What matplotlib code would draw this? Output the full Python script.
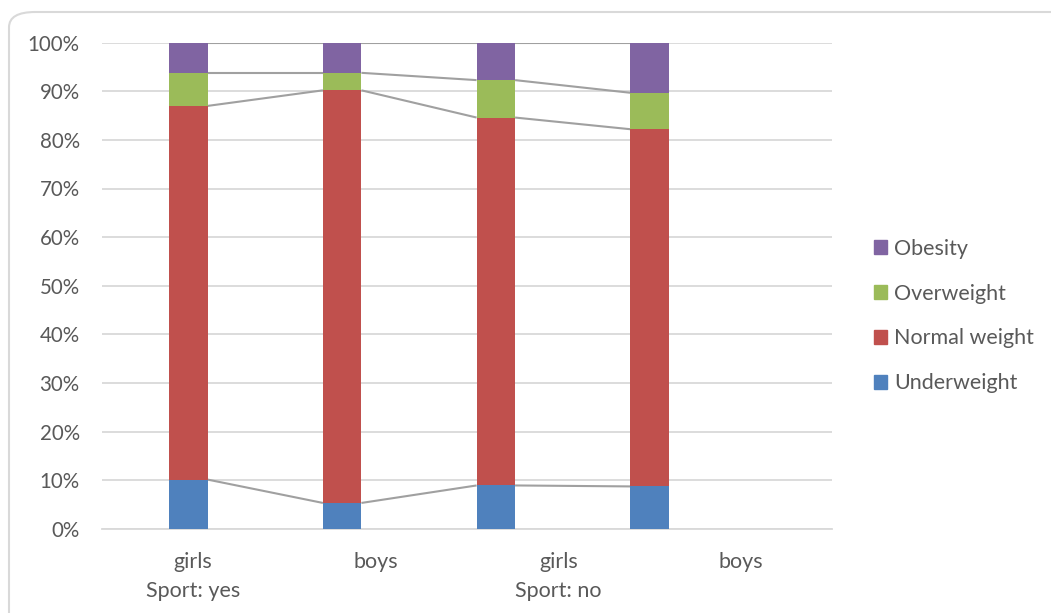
import matplotlib
matplotlib.use("Agg")
import matplotlib.pyplot as plt
import numpy as np
from matplotlib.patches import FancyBboxPatch, Patch
from matplotlib.ticker import FuncFormatter

# share of pupils in each weight class (%)
groups = ["girls\nSport: yes", "boys", "girls\nSport: no", "boys"]
underweight = [10.1, 5.3, 8.9, 8.7]
normal_weight = [76.9, 84.9, 75.7, 73.5]
overweight = [6.8, 3.6, 7.7, 7.5]
obesity = [6.2, 6.2, 7.7, 10.3]

series = [
    ("Underweight", underweight, "#4F81BD"),
    ("Normal weight", normal_weight, "#C0504D"),
    ("Overweight", overweight, "#9BBB59"),
    ("Obesity", obesity, "#8064A2"),
]

TEXT = "#595959"
GRID = "#D9D9D9"
plt.rcParams["font.family"] = ["Lato", "DejaVu Sans"]

W, H = 1051, 613
fig = plt.figure(figsize=(W / 100, H / 100), dpi=100)

# rounded frame around the chart area (runs off the right and bottom edges)
frame = FancyBboxPatch((9 / W, -0.1), 1.05, 1.1 - 12 / H, boxstyle="round,pad=0,rounding_size=0.025",
                       transform=fig.transFigure, facecolor="none", edgecolor=GRID,
                       linewidth=1.5, zorder=-1)
fig.patches.append(frame)

ax = fig.add_axes([102 / W, 1 - 528.7 / H, 730 / W, 486 / H])
ax.set_facecolor("none")

x = np.arange(len(groups))
bar_x = x * 0.842 - 0.026
width = 0.211

bottom = np.zeros(len(groups))
tops = []
for name, vals, color in series:
    vals = np.array(vals)
    ax.bar(bar_x, vals, width, bottom=bottom, color=color, label=name, zorder=3)
    bottom = bottom + vals
    tops.append(bottom.copy())

# series lines joining the segment tops of neighbouring bars
for top in tops:
    for i in range(len(groups) - 1):
        ax.plot([bar_x[i] + width / 2, bar_x[i + 1] - width / 2], [top[i], top[i + 1]],
                color="#A0A0A0", linewidth=1.5, zorder=2, solid_capstyle="butt")

ax.set_xlim(-0.5, 3.5)
ax.set_ylim(0, 100)
ax.set_yticks(np.arange(0, 101, 10))
ax.yaxis.set_major_formatter(FuncFormatter(lambda v, p: "%d%%" % v))
ax.set_xticks(x)
ax.set_xticklabels(groups, linespacing=1.55)
ax.tick_params(length=0, labelcolor=TEXT)
ax.tick_params(axis="y", pad=16, labelsize=14.8)
ax.tick_params(axis="x", pad=17, labelsize=15.5)
ax.grid(axis="y", color=GRID, linewidth=1.3, zorder=1)
for side in ["top", "right", "left"]:
    ax.spines[side].set_visible(False)
ax.spines["bottom"].set_color(GRID)
ax.spines["bottom"].set_linewidth(1.3)

handles = [Patch(color=c, label=n) for n, v, c in series][::-1]
fig.legend(handles=handles, loc="center left", bbox_to_anchor=(855 / W, 1 - 316 / H),
           frameon=False, fontsize=15.5, labelcolor=TEXT, handlelength=0.6,
           handleheight=0.6, handletextpad=0.3, labelspacing=1.16)

fig.savefig("out.png", dpi=100)
